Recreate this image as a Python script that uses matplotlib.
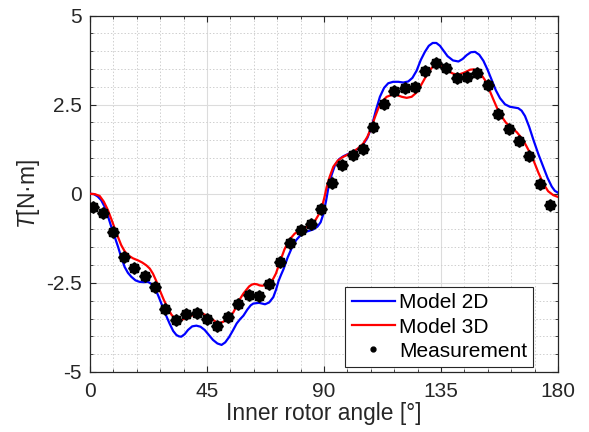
import numpy as np
import matplotlib
matplotlib.use('Agg')
import matplotlib.pyplot as plt

plt.rcParams['font.family'] = 'Liberation Sans'
plt.rcParams['mathtext.fontset'] = 'custom'
plt.rcParams['mathtext.it'] = 'Liberation Sans:italic'
plt.rcParams['mathtext.rm'] = 'Liberation Sans'

#%% torque data

# Model 2D (angle in deg, torque in N.m)
angle_2d = [0, 1.5, 3, 4.3, 5.6, 7, 8.2, 9.5, 10.8, 12, 13.3, 14.6, 15.9, 17.5, 19, 20.7,
            22.3, 23.6, 24.9, 26.2, 27.4, 29, 30.6, 32, 33.2, 34.2, 35.1, 36.4, 37.7, 39.3,
            40.9, 42.5, 44.1, 45.7, 47.3, 49, 50.6, 52, 53.5, 55, 56.4, 57.7, 59, 60.5,
            61.8, 62.8, 65, 67.3, 68.9, 70.5, 71.6, 72.5, 73.5, 74.4, 76, 77.6, 79.3, 81,
            83.4, 85.9, 87.5, 88.7, 89.7, 90.8, 91.7, 92.9, 94.2, 95.8, 97.4, 99.4, 101.3,
            103.2, 105, 106.7, 108.3, 110, 111.5, 113.1, 114.7, 116.6, 118.6, 120.5, 122.4,
            124, 125.6, 127.2, 128.8, 130.3, 131.8, 133.2, 134.6, 136.1, 137.5, 139.6,
            141.7, 143.3, 144.9, 146.5, 148.1, 149.7, 151.3, 152.9, 154.5, 156.1, 157.7,
            159.6, 161.5, 163.1, 164.7, 166, 167.3, 168.9, 170.5, 172.4, 174.3, 176,
            177.6, 178.8, 180]
torque_2d = [0.00, -0.01, -0.08, -0.18, -0.36, -0.65, -0.93, -1.21, -1.49, -1.78, -2.05,
             -2.22, -2.33, -2.43, -2.47, -2.48, -2.47, -2.53, -2.65, -2.85, -3.07, -3.37,
             -3.64, -3.85, -3.96, -4.00, -4.01, -3.94, -3.82, -3.72, -3.70, -3.73, -3.82,
             -3.96, -4.10, -4.20, -4.24, -4.17, -4.02, -3.83, -3.64, -3.52, -3.42, -3.25,
             -3.13, -3.08, -3.06, -3.10, -3.05, -2.90, -2.68, -2.45, -2.27, -2.12, -1.79,
             -1.52, -1.30, -1.16, -1.06, -1.00, -0.92, -0.80, -0.58, -0.20, 0.18, 0.52,
             0.80, 0.97, 1.05, 1.12, 1.18, 1.27, 1.38, 1.57, 1.88, 2.35, 2.72, 2.97, 3.10,
             3.14, 3.14, 3.12, 3.15, 3.25, 3.45, 3.75, 3.98, 4.15, 4.23, 4.23, 4.15, 4.00,
             3.86, 3.74, 3.71, 3.78, 3.89, 3.97, 3.98, 3.90, 3.73, 3.48, 3.19, 2.90, 2.68,
             2.51, 2.44, 2.42, 2.40, 2.33, 2.18, 1.88, 1.52, 1.12, 0.76, 0.44, 0.20, 0.08,
             0.03]

# Model 3D
angle_3d = [0, 1.8, 3.7, 5.3, 6.9, 8.2, 9.5, 10.8, 12, 13.3, 14.6, 16.5, 18.5, 20.1, 21.7,
            23, 24.2, 25.5, 26.8, 28.4, 30, 31.3, 32.6, 33.9, 35.1, 36.3, 37.5, 38.9, 40.3,
            41.9, 43.5, 44.8, 46, 47.3, 48.6, 50, 51.3, 52.5, 53.8, 55.1, 56.4, 57.7, 59,
            60.3, 61.2, 62.2, 63.2, 64.2, 65.2, 66.2, 67.8, 69.5, 70.5, 71.5, 72.3, 73.1,
            74.8, 76.6, 78.7, 80.8, 83, 85.2, 86.7, 88, 89.1, 90.1, 91, 92.2, 93.6, 95.3,
            97, 99.2, 101.3, 103.2, 105.1, 106.7, 108.3, 109.6, 110.9, 112.5, 114.1, 116,
            118, 119.9, 121.8, 123.7, 125.6, 127.5, 129.5, 131.4, 133.3, 135.4, 137.5,
            139.6, 141.7, 144, 146.2, 147.5, 148.7, 150.3, 151.9, 153.5, 155.1, 156.7,
            158.3, 159.9, 161.5, 162.8, 164.1, 165.7, 167.3, 168.9, 170.5, 172.4, 174.3,
            176.2, 178.2, 180]
torque_3d = [0.00, -0.01, -0.06, -0.22, -0.46, -0.71, -0.97, -1.22, -1.44, -1.61, -1.72,
             -1.81, -1.87, -1.93, -2.01, -2.10, -2.24, -2.45, -2.70, -2.98, -3.22, -3.39,
             -3.50, -3.55, -3.55, -3.50, -3.45, -3.42, -3.40, -3.37, -3.37, -3.41, -3.47,
             -3.54, -3.60, -3.62, -3.59, -3.52, -3.43, -3.33, -3.15, -2.95, -2.80, -2.68,
             -2.60, -2.55, -2.53, -2.54, -2.57, -2.58, -2.56, -2.47, -2.38, -2.24, -2.07,
             -1.90, -1.56, -1.30, -1.12, -1.02, -0.94, -0.85, -0.74, -0.58, -0.40, -0.12,
             0.18, 0.48, 0.76, 0.93, 1.02, 1.10, 1.18, 1.28, 1.41, 1.60, 1.88, 2.15, 2.40,
             2.60, 2.72, 2.77, 2.77, 2.72, 2.69, 2.72, 2.84, 3.07, 3.33, 3.53, 3.64, 3.57,
             3.45, 3.37, 3.34, 3.40, 3.48, 3.49, 3.46, 3.36, 3.19, 2.93, 2.65, 2.38, 2.17,
             2.00, 1.89, 1.81, 1.73, 1.59, 1.41, 1.19, 0.95, 0.60, 0.29, 0.07, -0.04,
             -0.09]

# Measurement
angle_meas = [1, 5, 9, 13, 17, 21, 25, 29, 33, 37, 41, 45, 49, 53, 57, 61, 65, 69, 73,
              77, 81, 85, 89, 93, 97, 101, 105, 109, 113, 117, 121, 125, 129, 133, 137,
              141, 145, 149, 153, 157, 161, 165, 169, 173, 177]
torque_meas = [-0.36, -0.55, -1.08, -1.78, -2.09, -2.30, -2.61, -3.23, -3.55, -3.38,
               -3.35, -3.51, -3.71, -3.45, -3.09, -2.83, -2.86, -2.53, -1.91, -1.37,
               -1.02, -0.85, -0.42, 0.30, 0.82, 1.08, 1.25, 1.88, 2.52, 2.89, 2.96, 3.00,
               3.44, 3.66, 3.52, 3.24, 3.27, 3.38, 3.05, 2.24, 1.81, 1.47, 1.06, 0.26,
               -0.32]

xticks = [0, 45, 90, 135, 180]
yticks = [-5, -2.5, 0, 2.5, 5]
ytick_labels = ['-5', '-2.5', '0', '2.5', '5']

#%% plot
fig = plt.figure(figsize=(5.89, 4.32), dpi=100)
ax = fig.add_axes([0.1528, 0.1389, 0.7946, 0.8252])

ax.plot(angle_2d, torque_2d, color='#0000ff', lw=1.6, label='Model 2D', zorder=3,
        solid_joinstyle='round')
ax.plot(angle_3d, torque_3d, color='#ff0000', lw=1.6, label='Model 3D', zorder=4,
        solid_joinstyle='round')
ax.plot(angle_meas, torque_meas, ls='none', marker=(8, 2, 0), ms=8.5, mew=1.4,
        color='black', zorder=5)
ax.plot(angle_meas, torque_meas, ls='none', marker='o', ms=7, color='black',
        label='Measurement', zorder=5)

ax.set_xlim(0, 180)
ax.set_ylim(-5, 5)
ax.set_xticks(xticks)
ax.set_yticks(yticks)
ax.set_yticklabels(ytick_labels)
ax.set_xticks(np.arange(0, 181, 9), minor=True)
ax.set_yticks(np.arange(-5, 5.01, 0.5), minor=True)

ax.grid(which='major', color='#dcdcdc', lw=0.8, ls='-')
ax.grid(which='minor', color='#cfcfcf', lw=0.7, ls=(0, (1.5, 2)))
ax.set_axisbelow(True)

ax.tick_params(which='both', direction='in', top=True, right=True, colors='#262626',
               labelsize=15)
ax.tick_params(which='major', length=4, width=0.8)
ax.tick_params(which='minor', length=2.5, width=0.6)
ax.tick_params(axis='x', pad=7)
ax.tick_params(axis='y', pad=6)
for s in ax.spines.values():
    s.set_color('#262626')
    s.set_linewidth(0.9)

ax.set_xlabel('Inner rotor angle [°]', fontsize=16.4, color='#262626', labelpad=1)
ax.set_ylabel('$\\mathit{T}$[N·m]', fontsize=16.4, color='#262626', labelpad=3)

leg = ax.legend(loc='lower right', bbox_to_anchor=(0.947, 0.014), borderaxespad=0,
                fontsize=15, fancybox=False, framealpha=1, edgecolor='#262626',
                handlelength=2.07, handletextpad=0.2, labelspacing=0.25,
                borderpad=0.3, markerscale=0.5)
leg.get_frame().set_linewidth(0.8)

fig.savefig('out.png', dpi=100)
